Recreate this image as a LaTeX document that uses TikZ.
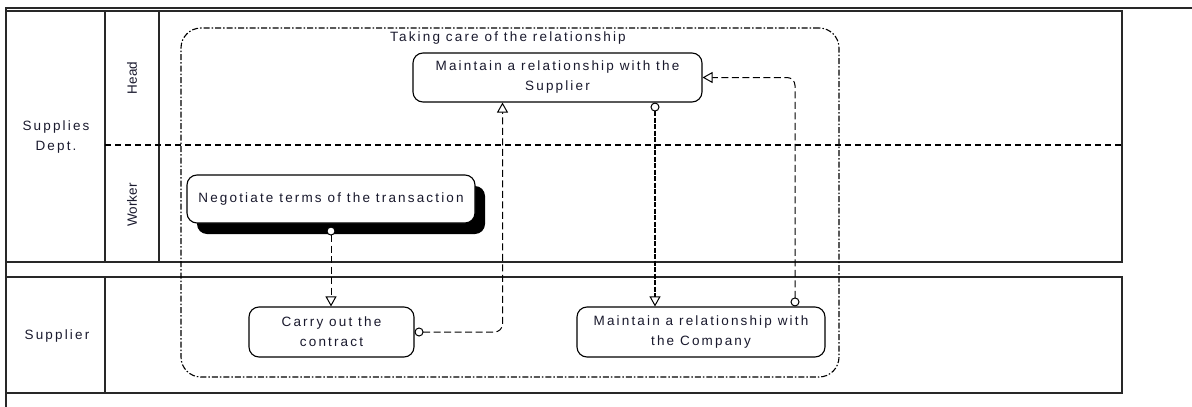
\documentclass[tikz,border=0pt]{standalone}
\usepackage{fontspec}
\setmainfont{Liberation Sans}
\newfontfamily\spaced{Liberation Sans}[LetterSpace=16]
\usetikzlibrary{arrows.meta,shadows}
\definecolor{txt}{RGB}{25,25,45}
\definecolor{border}{RGB}{40,40,40}
\tikzset{
  frame/.style={draw=border, line width=2pt},
  pool/.style={draw=border, line width=1.5pt},
  lanesep/.style={draw=black, line width=2pt, dash pattern=on 6pt off 4pt},
  lbl/.style={font=\spaced\fontsize{13.5}{20}\selectfont, text=txt, align=center, inner sep=0pt},
  lanelbl/.style={font=\fontsize{13.5}{16}\selectfont, text=txt, inner sep=0pt, rotate=90},
  grp/.style={draw=black, line width=1.1pt, rounded corners=20pt, dash pattern=on 6pt off 2pt on 1.5pt off 2pt},
  act/.style={draw=black, line width=1.1pt, fill=white, rounded corners=10pt, inner sep=0pt,
    font=\spaced\fontsize{13.5}{20}\selectfont, text=txt, align=center},
  conn/.style={draw=black, line width=1pt, dash pattern=on 7pt off 3.5pt,
    {Circle[fill=white,length=9pt,width=9pt,line width=1pt]}-{Triangle[open,length=10pt,width=11pt,line width=1pt]}},
  boldconn/.style={conn, line width=2.2pt, dash pattern=on 5pt off 1.5pt}
}
\begin{document}
\begin{tikzpicture}[x=1pt,y=-1pt]
\useasboundingbox (0,0) rectangle (1192,407);
% outer frame
\draw[frame] (6,407) -- (6,8) -- (1192,8);
% upper pool
\draw[pool] (6,11) rectangle (1122,262);
\draw[pool] (105,11) -- (105,262);
\draw[pool] (159,11) -- (159,262);
\draw[lanesep] (105,145) -- (1122,145);
% lower pool
\draw[pool] (6,277) rectangle (1122,393);
\draw[pool] (105,277) -- (105,393);
% labels
\node[lbl] (supdept) at (56,137) {Supplies\\Dept.};
\node[lanelbl] (head) at (132,78) {Head};
\node[lanelbl] (worker) at (132,205) {Worker};
\node[lbl] (supplier) at (57,336) {Supplier};
% group
\node[grp, minimum width=658pt, minimum height=349pt, inner sep=0pt] (group) at (510,202.5) {};
\node[lbl] (gtitle) at (508,38) {Taking care of the relationship};
% activities
\node[act, minimum width=289pt, minimum height=49pt] (MS) at (557.5,77.5) {Maintain a relationship with the\\Supplier};
\node[act, minimum width=288pt, minimum height=48pt,
  drop shadow={shadow xshift=10pt, shadow yshift=-11pt, fill=black, opacity=1}] (NG) at (331,199) {Negotiate terms of the transaction};
\node[act, minimum width=165pt, minimum height=50pt] (CO) at (331.5,332) {Carry out the\\contract};
\node[act, minimum width=248pt, minimum height=50pt] (MC) at (701,332) {Maintain a relationship with\\the Company};
% connectors
\draw[conn] ([yshift=-3pt]NG.south) -- (NG.south |- CO.north);
\draw[conn, rounded corners=8pt] (CO.east) -| ([xshift=-55pt]MS.south);
\draw[boldconn] ([xshift=97.5pt]MS.south) -- ([xshift=97.5pt]MS.south |- MC.north);
\draw[conn, rounded corners=8pt] ([xshift=94pt]MC.north) |- (MS.east);
\end{tikzpicture}
\end{document}
